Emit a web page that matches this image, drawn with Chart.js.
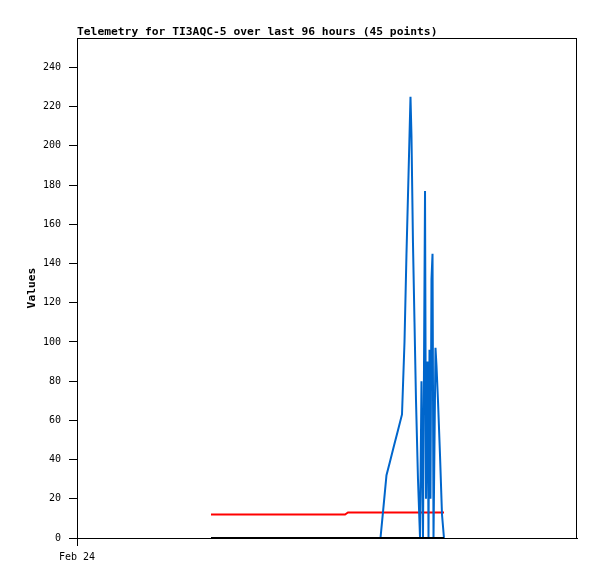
<!DOCTYPE html>
<html>
<head>
<meta charset="utf-8">
<script src="https://cdn.jsdelivr.net/npm/chart.js@4.4.0/dist/chart.umd.min.js"></script>
<style>
html,body{margin:0;padding:0;background:#fff;}
#wrap{width:597px;height:579px;}
</style>
</head>
<body>
<div id="wrap"><canvas id="c" width="597" height="579"></canvas></div>
<script>
// Hours since Feb 24 00:00 (x axis spans 96 hours)
const hours = [25.73, 28.99, 32.26, 35.52, 38.78, 42.05, 45.31, 48.58, 51.46, 52.03,
  55.10, 58.27, 58.85, 59.42, 60.10, 60.86, 61.63, 62.40, 62.88, 63.26,
  63.65, 64.03, 64.22, 64.51, 64.80, 65.09, 65.47, 65.86, 66.14, 66.43,
  66.82, 67.01, 67.30, 67.49, 67.68, 67.87, 68.06, 68.26, 68.45, 68.83,
  69.02, 69.31, 69.70, 70.08, 70.46];
const blueValues = [0, 0, 0, 0, 0, 0, 0, 0, 0, 0,
  0, 0, 16, 32, 39, 47, 55, 63, 100, 145,
  185, 225, 205, 150, 110, 70, 30, 0, 80, 0,
  177, 20, 90, 0, 96, 20, 132, 145, 0, 97,
  88, 70, 42, 12, 0];
const redValues = [12, 12, 12, 12, 12, 12, 12, 12, 12, 13,
  13, 13, 13, 13, 13, 13, 13, 13, 13, 13,
  13, 13, 13, 13, 13, 13, 13, 13, 13, 13,
  13, 13, 13, 13, 13, 13, 13, 13, 13, 13,
  13, 13, 13, 13, 13];
const blackValues = [0, 0, 0, 0, 0, 0, 0, 0, 0, 0,
  0, 0, 0, 0, 0, 0, 0, 0, 0, 0,
  0, 0, 0, 0, 0, 0, 0, 0, 0, 0,
  0, 0, 0, 0, 0, 0, 0, 0, 0, 0,
  0, 0, 0, 0, 0];
const yTicks = [0, 20, 40, 60, 80, 100, 120, 140, 160, 180, 200, 220, 240];
const xTickValues = [0];
const xTickLabels = ['Feb 24'];
const titleText = 'Telemetry for TI3AQC-5 over last 96 hours (45 points)';

const pts = vals => vals.map((v, i) => ({x: hours[i], y: v}));
const MONO = "'DejaVu Sans Mono', monospace";

const frame = {
  id: 'frame',
  afterDatasetsDraw(chart) {
    const a = chart.chartArea, ctx = chart.ctx;
    ctx.save();
    ctx.strokeStyle = '#000';
    ctx.lineWidth = 1;
    ctx.strokeRect(Math.round(a.left) + 0.5, Math.round(a.top) + 0.5,
      Math.round(a.right - a.left) - 1, Math.round(a.bottom - a.top));
    ctx.restore();
  }
};

new Chart(document.getElementById('c'), {
  type: 'line',
  data: {
    datasets: [
      {label: 'ch3', data: pts(blackValues), borderColor: '#000000', borderWidth: 2},
      {label: 'ch1', data: pts(blueValues), borderColor: '#0066cc', borderWidth: 2},
      {label: 'ch2', data: pts(redValues), borderColor: '#ff0000', borderWidth: 2}
    ]
  },
  options: {
    responsive: false,
    animation: false,
    devicePixelRatio: 1,
    elements: {point: {radius: 0}, line: {tension: 0}},
    layout: {padding: {left: 0, right: 20, top: 2, bottom: 11}},
    plugins: {
      legend: {display: false},
      tooltip: {enabled: false},
      title: {
        display: true, text: titleText, align: 'start', fullSize: false,
        color: '#000', font: {family: MONO, size: 11.3, weight: 'bold', lineHeight: 1},
        padding: {top: 24, bottom: 0.7}
      }
    },
    scales: {
      x: {
        type: 'linear', min: 0, max: 96,
        afterBuildTicks: s => { s.ticks = xTickValues.map(v => ({value: v})); },
        afterFit: s => { s.height = 30; },
        grid: {drawOnChartArea: false, drawTicks: true, tickLength: 8, color: '#000'},
        border: {display: true, color: '#000', width: 1},
        ticks: {
          color: '#000', font: {family: MONO, size: 10}, padding: 5, maxRotation: 0,
          callback: (v, i) => xTickLabels[i]
        }
      },
      y: {
        type: 'linear', min: 0, max: 255,
        afterBuildTicks: s => { s.ticks = yTicks.map(v => ({value: v})); },
        afterFit: s => { s.width = 77; },
        grid: {drawOnChartArea: false, drawTicks: true, tickLength: 8, color: '#000'},
        border: {display: true, color: '#000', width: 1},
        ticks: {color: '#000', font: {family: MONO, size: 10}, padding: 8},
        title: {
          display: true, text: 'Values', color: '#000',
          font: {family: MONO, size: 11.3, weight: 'bold', lineHeight: 1},
          padding: {top: 26, bottom: 0}
        }
      }
    }
  },
  plugins: [frame]
});
</script>
</body>
</html>
